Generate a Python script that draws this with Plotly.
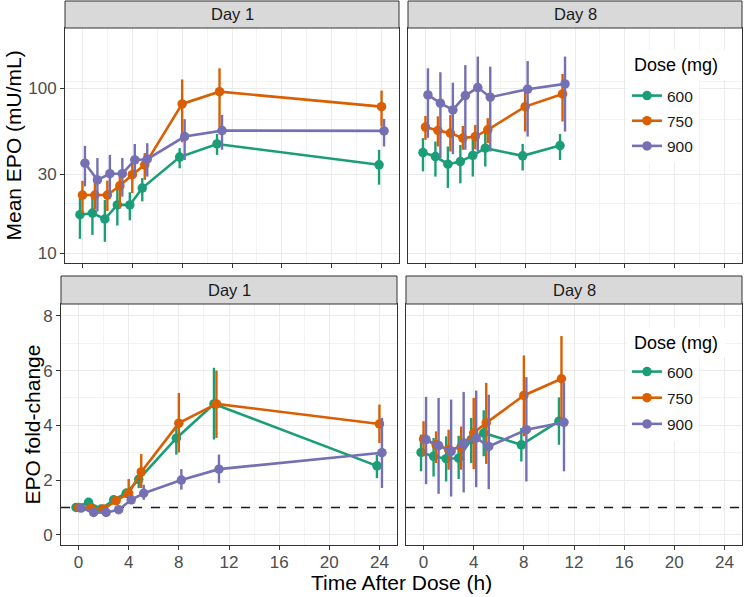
import plotly.graph_objects as go

W, H = 744, 597

doses = ["600", "750", "900"]
colors = {"600": "#1B9E77", "750": "#D95F02", "900": "#7570B3"}
dodge = {"600": -0.2, "750": 0.0, "900": 0.2}

times_d1 = [0, 1, 2, 3, 4, 5, 8, 11, 24]
times_d8 = [0, 1, 2, 3, 4, 5, 8, 11]

# Mean EPO (mU/mL), Day 1
epo_d1_600 = [17.1, 17.5, 16.1, 19.6, 19.6, 24.8, 38.2, 45.9, 34.3]
epo_d1_600_lo = [12.2, 12.9, 11.7, 14.7, 15.8, 20.6, 32.7, 39.4, 26.0]
epo_d1_600_hi = [21.5, 22.0, 21.0, 25.4, 23.4, 28.5, 43.3, 52.8, 42.3]
epo_d1_750 = [22.5, 22.5, 22.5, 25.6, 29.9, 34.3, 80.3, 95.3, 77.3]
epo_d1_750_lo = [17.5, 18.5, 18.0, 18.7, 23.1, 27.8, 47.0, 58.0, 58.5]
epo_d1_750_hi = [27.4, 27.0, 27.5, 31.3, 36.7, 40.4, 113.0, 132.0, 96.7]
epo_d1_900 = [35.1, 27.8, 30.3, 30.3, 36.7, 37.1, 50.9, 55.3, 55.1]
epo_d1_900_lo = [25.4, 17.9, 21.5, 22.0, 29.1, 29.1, 36.7, 42.3, 44.3]
epo_d1_900_hi = [44.7, 37.7, 39.4, 37.7, 45.9, 46.4, 64.9, 68.9, 65.1]

# Mean EPO (mU/mL), Day 8
epo_d8_600 = [40.7, 38.5, 34.6, 35.9, 39.1, 43.3, 38.9, 44.9]
epo_d8_600_lo = [31.3, 29.1, 24.8, 26.5, 29.1, 33.5, 31.7, 36.7]
epo_d8_600_hi = [49.8, 47.5, 44.3, 45.3, 49.8, 54.6, 45.9, 52.8]
epo_d8_750 = [58.1, 55.4, 53.4, 49.8, 50.9, 55.9, 77.3, 92.3]
epo_d8_750_lo = [48.6, 44.3, 41.3, 42.3, 42.6, 46.4, 54.6, 62.8]
epo_d8_750_hi = [67.9, 67.5, 68.9, 59.0, 59.9, 65.8, 100.0, 122.0]
epo_d8_900 = [91.0, 81.1, 73.8, 90.2, 100.9, 88.2, 98.6, 106.2]
epo_d8_900_lo = [50.0, 37.7, 39.8, 42.3, 41.3, 41.3, 50.9, 54.6]
epo_d8_900_hi = [132.0, 125.0, 108.0, 138.0, 155.5, 135.0, 146.0, 155.5]

# EPO fold-change, Day 1
fc_d1_600 = [1.0, 1.19, 0.94, 1.28, 1.52, 2.03, 3.53, 4.78, 2.52]
fc_d1_600_lo = [0.97, 1.10, 0.88, 1.18, 1.35, 1.71, 2.93, 3.48, 2.07]
fc_d1_600_hi = [1.03, 1.28, 1.00, 1.38, 1.69, 2.38, 4.15, 6.10, 2.93]
fc_d1_750 = [1.0, 0.98, 0.94, 1.25, 1.52, 2.30, 4.08, 4.78, 4.05]
fc_d1_750_lo = [0.97, 0.90, 0.87, 1.12, 1.16, 1.71, 3.01, 3.54, 3.35]
fc_d1_750_hi = [1.03, 1.06, 1.01, 1.38, 2.04, 2.95, 5.18, 6.00, 4.76]
fc_d1_900 = [0.98, 0.82, 0.82, 0.92, 1.28, 1.52, 2.00, 2.40, 3.00]
fc_d1_900_lo = [0.95, 0.76, 0.76, 0.86, 1.12, 1.28, 1.65, 1.89, 1.71]
fc_d1_900_hi = [1.01, 0.88, 0.88, 0.98, 1.44, 1.83, 2.40, 2.93, 4.27]

# EPO fold-change, Day 8
fc_d8_600 = [3.01, 2.87, 2.78, 2.80, 3.48, 3.72, 3.29, 4.15]
fc_d8_600_lo = [2.32, 2.13, 1.95, 2.04, 2.62, 2.87, 2.68, 3.29]
fc_d8_600_hi = [3.66, 3.54, 3.60, 3.62, 4.27, 4.55, 3.90, 5.02]
fc_d8_750 = [3.50, 3.29, 3.11, 3.21, 3.72, 4.09, 5.09, 5.70]
fc_d8_750_lo = [2.87, 2.62, 2.38, 2.38, 2.40, 2.59, 3.60, 4.20]
fc_d8_750_hi = [4.15, 3.78, 3.84, 3.96, 5.00, 5.55, 6.55, 7.26]
fc_d8_900 = [3.48, 3.26, 3.05, 3.35, 3.54, 3.23, 3.84, 4.11]
fc_d8_900_lo = [1.85, 1.50, 1.40, 1.55, 1.74, 1.67, 1.95, 2.32]
fc_d8_900_hi = [5.04, 5.00, 4.94, 5.22, 5.27, 5.12, 5.76, 5.57]

x_ticks = [0, 4, 8, 12, 16, 20, 24]
epo_ticks = [10, 30, 100]
epo_minor = [20, 65, 110]
fc_ticks = [0, 2, 4, 6, 8]
fc_reference = 1
panel_titles = ["Day 1", "Day 8", "Day 1", "Day 8"]
legend_title = "Dose (mg)"

panels = [
    ("", times_d1, {"600": (epo_d1_600, epo_d1_600_lo, epo_d1_600_hi),
                    "750": (epo_d1_750, epo_d1_750_lo, epo_d1_750_hi),
                    "900": (epo_d1_900, epo_d1_900_lo, epo_d1_900_hi)}, "legend", False),
    ("2", times_d8, {"600": (epo_d8_600, epo_d8_600_lo, epo_d8_600_hi),
                     "750": (epo_d8_750, epo_d8_750_lo, epo_d8_750_hi),
                     "900": (epo_d8_900, epo_d8_900_lo, epo_d8_900_hi)}, "legend", True),
    ("3", times_d1, {"600": (fc_d1_600, fc_d1_600_lo, fc_d1_600_hi),
                     "750": (fc_d1_750, fc_d1_750_lo, fc_d1_750_hi),
                     "900": (fc_d1_900, fc_d1_900_lo, fc_d1_900_hi)}, "legend2", False),
    ("4", times_d8, {"600": (fc_d8_600, fc_d8_600_lo, fc_d8_600_hi),
                     "750": (fc_d8_750, fc_d8_750_lo, fc_d8_750_hi),
                     "900": (fc_d8_900, fc_d8_900_lo, fc_d8_900_hi)}, "legend2", True),
]

xrange = [-1.4, 25.4]
fig = go.Figure()

# dashed reference line (fold-change = 1), drawn beneath the data
for suffix in ["3", "4"]:
    fig.add_trace(go.Scatter(x=xrange, y=[fc_reference, fc_reference], mode="lines",
                             line=dict(color="#1A1A1A", width=1.3, dash="dash"),
                             xaxis="x" + suffix, yaxis="y" + suffix, showlegend=False,
                             hoverinfo="skip"))

for suffix, times, data, leg, showleg in panels:
    for d in doses:
        mean, lo, hi = data[d]
        fig.add_trace(go.Scatter(
            x=[t + dodge[d] for t in times], y=mean,
            mode="lines+markers", name=d,
            line=dict(color=colors[d], width=2.6),
            marker=dict(color=colors[d], size=9.5),
            error_y=dict(type="data", symmetric=False,
                         array=[h - m for h, m in zip(hi, mean)],
                         arrayminus=[m - l for m, l in zip(mean, lo)],
                         color=colors[d], thickness=2.4, width=0),
            xaxis="x" + suffix, yaxis="y" + suffix,
            legend=leg, showlegend=showleg, legendgroup=leg + d,
        ))

# geometry (pixels)
top_plot = (28, 263)
bot_plot = (304, 545)
top_strip = (1, 28)
bot_strip = (276, 304)
tl_x = (65, 399)
tr_x = (408, 742)
bl_x = (61, 397)
br_x = (406, 742)


def xd(a):
    return [a[0] / W, a[1] / W]


def yd(a):
    return [1 - a[1] / H, 1 - a[0] / H]


FONT = "Liberation Sans, Arial"
tickfont = dict(family=FONT, size=17, color="#4D4D4D")
grid = "#EBEBEB"
minorgrid = "#F3F3F3"

common_x = dict(range=xrange, tickvals=x_ticks, showgrid=True, gridcolor=grid, gridwidth=1.1,
                minor=dict(dtick=2, tick0=0, showgrid=True, gridcolor=minorgrid, gridwidth=0.8, ticks=""),
                showline=True, mirror=True, linecolor="#333333", linewidth=1,
                ticks="outside", ticklen=4, tickcolor="#333333", tickwidth=1,
                zeroline=False, tickfont=tickfont, ticklabelstandoff=-2)

fig.update_layout(
    xaxis=dict(common_x, domain=xd(tl_x), anchor="y", showticklabels=False),
    xaxis2=dict(common_x, domain=xd(tr_x), anchor="y2", showticklabels=False),
    xaxis3=dict(common_x, domain=xd(bl_x), anchor="y3"),
    xaxis4=dict(common_x, domain=xd(br_x), anchor="y4"),
)

common_log = dict(type="log", range=[0.94, 2.365], tickvals=epo_ticks, ticktext=[str(v) for v in epo_ticks],
                  showgrid=True, gridcolor=grid, gridwidth=1.1,
                  minor=dict(tickmode="array", tickvals=epo_minor, showgrid=True, gridcolor=minorgrid,
                             gridwidth=0.8, ticks=""),
                  showline=True, mirror=True, linecolor="#333333", linewidth=1,
                  ticklen=4, tickcolor="#333333", tickwidth=1, zeroline=False, tickfont=tickfont)
common_lin = dict(range=[-0.37, 8.43], tickvals=fc_ticks,
                  showgrid=True, gridcolor=grid, gridwidth=1.1,
                  minor=dict(dtick=1, tick0=0, showgrid=True, gridcolor=minorgrid, gridwidth=0.8, ticks=""),
                  showline=True, mirror=True, linecolor="#333333", linewidth=1,
                  ticklen=4, tickcolor="#333333", tickwidth=1, zeroline=False, tickfont=tickfont)

fig.update_layout(
    yaxis=dict(common_log, domain=yd(top_plot), anchor="x", ticks="outside"),
    yaxis2=dict(common_log, domain=yd(top_plot), anchor="x2", ticks="", showticklabels=False),
    yaxis3=dict(common_lin, domain=yd(bot_plot), anchor="x3", ticks="outside"),
    yaxis4=dict(common_lin, domain=yd(bot_plot), anchor="x4", ticks="", showticklabels=False),
)

# strips
strips = [(tl_x, top_strip), (tr_x, top_strip), (bl_x, bot_strip), (br_x, bot_strip)]
for (sx, sy), title in zip(strips, panel_titles):
    fig.add_shape(type="rect", xref="paper", yref="paper",
                  x0=sx[0] / W, x1=sx[1] / W, y0=1 - sy[1] / H, y1=1 - sy[0] / H,
                  fillcolor="#D9D9D9", line=dict(color="#333333", width=1))
    fig.add_annotation(x=(sx[0] + sx[1]) / 2 / W, y=1 - (sy[0] + sy[1]) / 2 / H,
                       xref="paper", yref="paper", text=title, showarrow=False,
                       font=dict(family=FONT, size=16.5, color="#1A1A1A"),
                       xanchor="center", yanchor="middle")

titlefont = dict(family=FONT, size=21, color="#000000")
fig.add_annotation(x=(bl_x[0] + br_x[1]) / 2 / W, y=1 - 582 / H, xref="paper", yref="paper",
                   text="Time After Dose (h)", showarrow=False, font=titlefont,
                   xanchor="center", yanchor="middle")
fig.add_annotation(x=13 / W, y=1 - (top_plot[0] + top_plot[1]) / 2 / H, xref="paper", yref="paper",
                   text="Mean EPO (mU/mL)", showarrow=False, font=titlefont, textangle=-90,
                   xanchor="center", yanchor="middle")
fig.add_annotation(x=32 / W, y=1 - (bot_plot[0] + bot_plot[1]) / 2 / H, xref="paper", yref="paper",
                   text="EPO fold-change", showarrow=False, font=titlefont, textangle=-90,
                   xanchor="center", yanchor="middle")

# legend titles in white boxes (the legends themselves sit just below)
legend_title_boxes = [(627, 50, 725, 80), (627, 328, 725, 357)]
for bx0, by0, bx1, by1 in legend_title_boxes:
    fig.add_annotation(x=bx0 / W, y=1 - by0 / H, xref="paper", yref="paper",
                       text=legend_title, showarrow=False, xanchor="left", yanchor="top",
                       width=bx1 - bx0, height=by1 - by0, valign="middle", align="center",
                       bgcolor="white", borderpad=0, borderwidth=0,
                       font=dict(family=FONT, size=18, color="#000000"))

legfont = dict(family=FONT, size=15.5, color="#1A1A1A")
fig.update_layout(
    legend=dict(x=627 / W, y=1 - 79 / H, xanchor="left", yanchor="top", bgcolor="white",
                font=legfont, itemwidth=30, tracegroupgap=2),
    legend2=dict(x=627 / W, y=1 - 355 / H, xanchor="left", yanchor="top", bgcolor="white",
                 font=legfont, itemwidth=30, tracegroupgap=3),
)

fig.update_layout(width=W, height=H, margin=dict(l=0, r=0, t=0, b=0),
                  plot_bgcolor="white", paper_bgcolor="white",
                  font=dict(family=FONT))

fig.write_html("out.html")
